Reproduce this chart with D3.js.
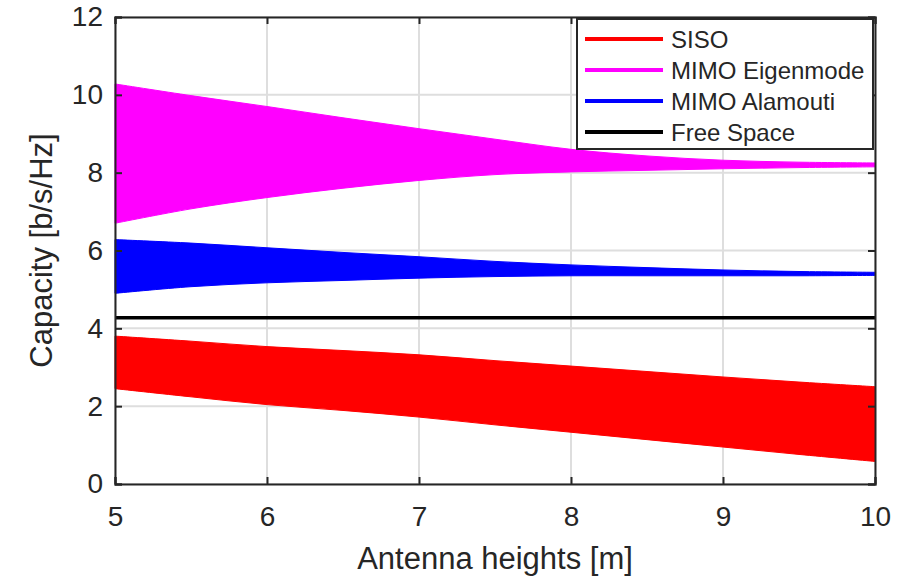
<!DOCTYPE html>
<html>
<head>
<meta charset="utf-8">
<script src="https://cdn.jsdelivr.net/npm/d3@7"></script>
<style>
  html, body { margin: 0; padding: 0; background: #fff; }
  svg { display: block; }
  text { font-family: "Liberation Sans", Arial, Helvetica, sans-serif; fill: #262626; }
</style>
</head>
<body>
<svg id="chart" width="917" height="578"></svg>
<script>
// ---- data ----
const heights = [5, 5.5, 6, 6.5, 7, 7.5, 8, 8.5, 9, 9.5, 10];
// envelopes of the oscillating capacity curves
const sisoUpper  = [3.80, 3.67, 3.53, 3.43, 3.32, 3.17, 3.03, 2.89, 2.75, 2.62, 2.50];
const sisoLower  = [2.45, 2.24, 2.04, 1.89, 1.72, 1.52, 1.33, 1.14, 0.95, 0.76, 0.58];
const eigenUpper = [10.28, 9.98, 9.70, 9.41, 9.13, 8.86, 8.60, 8.43, 8.32, 8.27, 8.25];
const eigenLower = [6.70, 7.07, 7.36, 7.60, 7.80, 7.95, 8.02, 8.06, 8.10, 8.13, 8.15];
const alamUpper  = [6.28, 6.19, 6.07, 5.95, 5.84, 5.72, 5.63, 5.56, 5.50, 5.46, 5.44];
const alamLower  = [4.90, 5.07, 5.17, 5.23, 5.29, 5.33, 5.35, 5.35, 5.35, 5.35, 5.36];
const freeSpace  = [4.27, 4.27, 4.27, 4.27, 4.27, 4.27, 4.27, 4.27, 4.27, 4.27, 4.27];
const xTicks = [5, 6, 7, 8, 9, 10];
const yTicks = [0, 2, 4, 6, 8, 10, 12];
const legendLabels = ["SISO", "MIMO Eigenmode", "MIMO Alamouti", "Free Space"];
const seriesColors = ["#ff0000", "#ff00ff", "#0000ff", "#000000"];

// ---- layout ----
const W = 917, H = 578;
const L = 115, R = 875, T = 17, B = 484;
const svg = d3.select("#chart");
svg.append("rect").attr("width", W).attr("height", H).attr("fill", "#fff");

const x = d3.scaleLinear().domain([5, 10]).range([L, R]);
const y = d3.scaleLinear().domain([0, 12]).range([B, T]);

// grid
const grid = svg.append("g");
grid.selectAll(".gx").data(xTicks).enter().append("line")
  .attr("x1", d => x(d)).attr("x2", d => x(d)).attr("y1", T).attr("y2", B)
  .attr("stroke", "#dedede").attr("stroke-width", 2);
grid.selectAll(".gy").data(yTicks).enter().append("line")
  .attr("y1", d => y(d)).attr("y2", d => y(d)).attr("x1", L).attr("x2", R)
  .attr("stroke", "#dedede").attr("stroke-width", 2);

// series bands
const rows = heights.map((h, i) => ({h, i}));
function band(upper, lower, color) {
  const area = d3.area()
    .x(d => x(d.h)).y0(d => y(lower[d.i])).y1(d => y(upper[d.i]))
    .curve(d3.curveCatmullRom.alpha(0.5));
  svg.append("path").datum(rows).attr("d", area).attr("fill", color)
    .attr("stroke", color).attr("stroke-width", 1);
}
band(eigenUpper, eigenLower, seriesColors[1]);
band(alamUpper, alamLower, seriesColors[2]);
band(sisoUpper, sisoLower, seriesColors[0]);

// free space line
svg.append("path").datum(rows)
  .attr("d", d3.line().x(d => x(d.h)).y(d => y(freeSpace[d.i])))
  .attr("fill", "none").attr("stroke", seriesColors[3]).attr("stroke-width", 3.5);

// axes (ticks inward, on all four sides)
const tickLen = 7;
const axisColor = "#262626";
const axB = svg.append("g").attr("transform", `translate(0,${B})`)
  .call(d3.axisBottom(x).tickValues(xTicks).tickSize(-tickLen).tickPadding(22).tickFormat(d3.format("d")));
const axT = svg.append("g").attr("transform", `translate(0,${T})`)
  .call(d3.axisTop(x).tickValues(xTicks).tickSize(-tickLen).tickFormat(""));
const axL = svg.append("g").attr("transform", `translate(${L},0)`)
  .call(d3.axisLeft(y).tickValues(yTicks).tickSize(-tickLen).tickPadding(12).tickFormat(d3.format("d")));
const axR = svg.append("g").attr("transform", `translate(${R},0)`)
  .call(d3.axisRight(y).tickValues(yTicks).tickSize(-tickLen).tickFormat(""));
[axB, axT, axL, axR].forEach(a => {
  a.select(".domain").attr("stroke", axisColor).attr("stroke-width", 2);
  a.selectAll(".tick line").attr("stroke", axisColor).attr("stroke-width", 2);
  a.selectAll(".tick text").attr("font-size", 28).attr("fill", "#262626")
    .attr("font-family", "'Liberation Sans', Arial, sans-serif");
});
axB.selectAll(".tick text").attr("dy", "0.71em");

// axis titles
svg.append("text").attr("x", (L + R) / 2).attr("y", 569)
  .attr("text-anchor", "middle").attr("font-size", 31).text("Antenna heights [m]");
svg.append("text").attr("transform", `translate(52,${(T + B) / 2}) rotate(-90)`)
  .attr("text-anchor", "middle").attr("font-size", 31).text("Capacity [b/s/Hz]");

// legend
const lg = svg.append("g");
lg.append("rect").attr("x", 577).attr("y", 19).attr("width", 296).attr("height", 130)
  .attr("fill", "#fff").attr("stroke", axisColor).attr("stroke-width", 2);
const rowY = [39, 70, 101, 132];
legendLabels.forEach((lab, i) => {
  lg.append("line").attr("x1", 585).attr("x2", 663).attr("y1", rowY[i]).attr("y2", rowY[i])
    .attr("stroke", seriesColors[i]).attr("stroke-width", 4);
  lg.append("text").attr("x", 671).attr("y", rowY[i]).attr("dy", "0.36em")
    .attr("font-size", 24).attr("fill", "#000").text(lab);
});
</script>
</body>
</html>
